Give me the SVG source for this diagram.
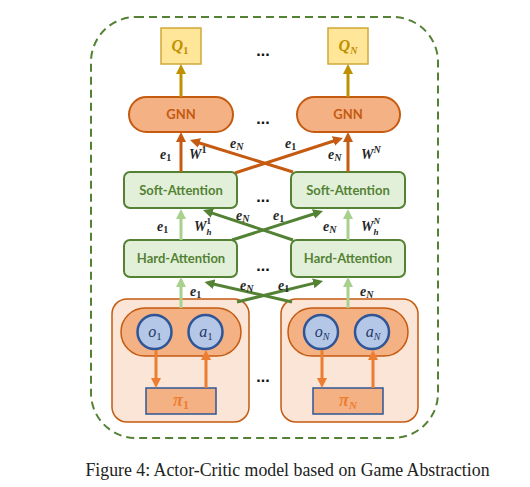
<svg xmlns="http://www.w3.org/2000/svg" width="530" height="487" viewBox="0 0 530 487">
<style>
.lbl{font-family:"Liberation Serif",serif;font-style:italic;font-weight:bold;font-size:14px;fill:#262626}
.sub{font-size:10px}
.dig{font-style:normal}
.node{font-family:Lato,"Liberation Sans",sans-serif;font-weight:bold;font-size:13px;text-anchor:middle}
.green{fill:#E2F0D9;stroke:#548235;stroke-width:2}
.gtxt{fill:#548235}
.gnn{fill:#F4B183;stroke:#C55A11;stroke-width:2}
.q{fill:#FFE699;stroke:#CFA83A;stroke-width:1.5}
.agent{fill:#FBE5D6;stroke:#C55A11;stroke-width:1.5}
.inner{fill:#F4B183;stroke:#C55A11;stroke-width:1.5}
.circ{fill:#B4C7E7;stroke:#2F5597;stroke-width:2.5}
.ctxt{font-family:"Liberation Serif",serif;font-style:italic;font-size:16px;fill:#203864;text-anchor:middle}
.pi{fill:#F4B183;stroke:#2F5597;stroke-width:1.5}
.ptxt{font-family:"Liberation Serif",serif;font-style:italic;font-weight:bold;font-size:18px;fill:#ED7D31;text-anchor:middle}
.qtxt{font-family:"Liberation Serif",serif;font-style:italic;font-weight:bold;font-size:16px;fill:#BF9000;text-anchor:middle}
.dots{font-family:"Liberation Sans",sans-serif;font-weight:bold;font-size:16px;text-anchor:middle;fill:#111}
.a{fill:none;stroke-width:3}
</style>
<defs>
<marker id="mGold" viewBox="0 0 10 10" refX="1" refY="5" markerWidth="10" markerHeight="10" markerUnits="userSpaceOnUse" orient="auto"><path d="M0,0 L10,5 L0,10 z" fill="#BF9000"/></marker>
<marker id="mOr" viewBox="0 0 10 10" refX="1" refY="5" markerWidth="10" markerHeight="10" markerUnits="userSpaceOnUse" orient="auto"><path d="M0,0 L10,5 L0,10 z" fill="#C55A11"/></marker>
<marker id="mLg" viewBox="0 0 10 10" refX="1" refY="5" markerWidth="10" markerHeight="10" markerUnits="userSpaceOnUse" orient="auto"><path d="M0,0 L10,5 L0,10 z" fill="#A9D18E"/></marker>
<marker id="mDg" viewBox="0 0 10 10" refX="1" refY="5" markerWidth="10" markerHeight="10" markerUnits="userSpaceOnUse" orient="auto"><path d="M0,0 L10,5 L0,10 z" fill="#548235"/></marker>
<marker id="mLo" viewBox="0 0 10 10" refX="1" refY="5" markerWidth="10" markerHeight="10" markerUnits="userSpaceOnUse" orient="auto"><path d="M0,0 L10,5 L0,10 z" fill="#ED7D31"/></marker>
</defs>
<rect width="530" height="487" fill="#fff"/>
<rect id="frame" x="91" y="17" width="347" height="421" rx="45" fill="none" stroke="#548235" stroke-width="2" stroke-dasharray="8 5"/>

<g id="agent1">
<rect class="agent" x="112" y="299" width="137" height="123" rx="15"/>
<rect class="inner" x="121" y="308" width="120" height="48" rx="24"/>
<circle class="circ" cx="154.5" cy="332" r="17"/>
<circle class="circ" cx="205.5" cy="332" r="17"/>
<text class="ctxt" x="155" y="337">o<tspan class="dig" font-size="11" dy="3">1</tspan></text>
<text class="ctxt" x="206" y="337">a<tspan class="dig" font-size="11" dy="3">1</tspan></text>
<rect class="pi" x="146" y="388" width="70" height="26"/>
<text class="ptxt" x="181" y="406">π<tspan class="dig" font-size="12" dy="3">1</tspan></text>
</g>
<g id="agentN">
<rect class="agent" x="281" y="299" width="137" height="123" rx="15"/>
<rect class="inner" x="288" y="308" width="120" height="48" rx="24"/>
<circle class="circ" cx="321" cy="332" r="17"/>
<circle class="circ" cx="372" cy="332" r="17"/>
<text class="ctxt" x="322" y="337">o<tspan font-size="10" dy="3">N</tspan></text>
<text class="ctxt" x="373" y="337">a<tspan font-size="10" dy="3">N</tspan></text>
<rect class="pi" x="313" y="388" width="70" height="26"/>
<text class="ptxt" x="348" y="406">π<tspan font-size="11" dy="3">N</tspan></text>
</g>

<g id="hard1"><rect class="green" x="124" y="240" width="113" height="37" rx="6"/><text class="node gtxt" x="181" y="263">Hard-Attention</text></g>
<g id="hardN"><rect class="green" x="291" y="240" width="114" height="37" rx="6"/><text class="node gtxt" x="348" y="263">Hard-Attention</text></g>
<g id="soft1"><rect class="green" x="124" y="172" width="113" height="36" rx="6"/><text class="node gtxt" x="181" y="195">Soft-Attention</text></g>
<g id="softN"><rect class="green" x="291" y="172" width="114" height="36" rx="6"/><text class="node gtxt" x="348" y="195">Soft-Attention</text></g>
<g id="gnn1"><rect class="gnn" x="129" y="97" width="104" height="35" rx="17.5"/><text class="node" x="181" y="119" fill="#C55A11">GNN</text></g>
<g id="gnnN"><rect class="gnn" x="297" y="97" width="103" height="35" rx="17.5"/><text class="node" x="348" y="119" fill="#C55A11">GNN</text></g>
<g id="q1"><rect class="q" x="161" y="28" width="40" height="36"/><text class="qtxt" x="180" y="51">Q<tspan class="dig" font-size="11" dy="3">1</tspan></text></g>
<g id="qN"><rect class="q" x="328" y="28" width="40" height="36"/><text class="qtxt" x="348" y="51">Q<tspan font-size="10" dy="3">N</tspan></text></g>

<g id="connectors">
<path class="a" stroke="#BF9000" marker-end="url(#mGold)" d="M181,97 V73"/>
<path class="a" stroke="#BF9000" marker-end="url(#mGold)" d="M348,97 V73"/>
<path class="a" stroke="#C55A11" marker-end="url(#mOr)" d="M181,172 V141"/>
<path class="a" stroke="#C55A11" marker-end="url(#mOr)" d="M348,172 V141"/>
<path class="a" stroke="#C55A11" marker-end="url(#mOr)" d="M235,173 L334.4,140.8"/>
<path class="a" stroke="#C55A11" marker-end="url(#mOr)" d="M293,172 L198.6,142.7"/>
<path class="a" stroke="#A9D18E" marker-end="url(#mLg)" d="M181,240 V218"/>
<path class="a" stroke="#A9D18E" marker-end="url(#mLg)" d="M348,240 V218"/>
<path class="a" stroke="#548235" marker-end="url(#mDg)" d="M232,240 L314.4,213.7"/>
<path class="a" stroke="#548235" marker-end="url(#mDg)" d="M293,240 L211.5,212.8"/>
<path class="a" stroke="#A9D18E" marker-end="url(#mLg)" d="M181,308 V286"/>
<path class="a" stroke="#A9D18E" marker-end="url(#mLg)" d="M348,308 V286"/>
<path class="a" stroke="#548235" marker-end="url(#mDg)" d="M237,302 L314.3,283.1"/>
<path class="a" stroke="#548235" marker-end="url(#mDg)" d="M292,302 L213.2,284"/>
<path class="a" stroke="#ED7D31" marker-end="url(#mLo)" d="M156,350 V379"/>
<path class="a" stroke="#ED7D31" marker-end="url(#mLo)" d="M206,388 V359"/>
<path class="a" stroke="#ED7D31" marker-end="url(#mLo)" d="M322,350 V379"/>
<path class="a" stroke="#ED7D31" marker-end="url(#mLo)" d="M373,388 V359"/>
</g>

<g id="labels">
<text class="lbl" x="160" y="159">e<tspan class="sub dig" dy="2">1</tspan></text>
<text class="lbl" x="189" y="159">W<tspan class="sub dig" dy="-6">1</tspan></text>
<text class="lbl" x="230" y="148">e<tspan class="sub" dy="2">N</tspan></text>
<text class="lbl" x="285" y="148">e<tspan class="sub dig" dy="2">1</tspan></text>
<text class="lbl" x="328" y="159">e<tspan class="sub" dy="2">N</tspan></text>
<text class="lbl" x="361" y="159">W<tspan class="sub" dy="-6">N</tspan></text>

<text class="lbl" x="157" y="231">e<tspan class="sub dig" dy="2">1</tspan></text>
<text class="lbl" x="194" y="231">W<tspan class="dig" font-size="9" dy="-7">1</tspan><tspan font-size="9" dx="-4.5" dy="11">h</tspan></text>
<text class="lbl" x="236" y="220">e<tspan class="sub" dy="2">N</tspan></text>
<text class="lbl" x="273" y="220">e<tspan class="sub dig" dy="2">1</tspan></text>
<text class="lbl" x="323" y="231">e<tspan class="sub" dy="2">N</tspan></text>
<text class="lbl" x="361" y="231">W<tspan font-size="9" dy="-7">N</tspan><tspan font-size="9" dx="-6.5" dy="11">h</tspan></text>

<text class="lbl" x="190" y="296">e<tspan class="sub dig" dy="2">1</tspan></text>
<text class="lbl" x="240" y="290">e<tspan class="sub" dy="2">N</tspan></text>
<text class="lbl" x="278" y="290">e<tspan class="sub dig" dy="2">1</tspan></text>
<text class="lbl" x="360" y="296">e<tspan class="sub" dy="2">N</tspan></text>
</g>

<g id="ellipses">
<text class="dots" x="263" y="56">...</text>
<text class="dots" x="263" y="124">...</text>
<text class="dots" x="263" y="202">...</text>
<text class="dots" x="263" y="271">...</text>
<text class="dots" x="263" y="382">...</text>
</g>

<text x="287.5" y="476" font-family="Liberation Serif,serif" font-size="17.8" fill="#222" text-anchor="middle">Figure 4: Actor-Critic model based on Game Abstraction</text>
</svg>
